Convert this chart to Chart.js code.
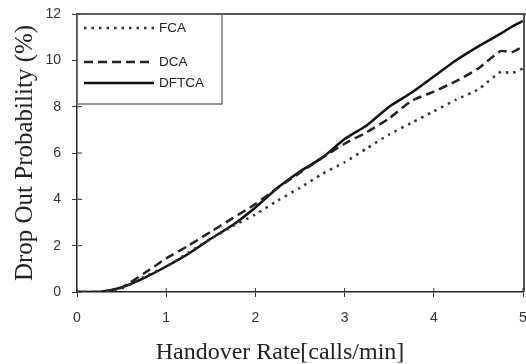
<!DOCTYPE html>
<html>
<head>
<meta charset="utf-8">
<script src="https://cdn.jsdelivr.net/npm/chart.js@4.4.0/dist/chart.umd.min.js"></script>
<style>
html,body{margin:0;padding:0;background:#fff;overflow:hidden;width:526px;height:364px;}
#wrap{width:545px;height:364px;}
</style>
</head>
<body>
<div id="wrap"><canvas id="c" width="545" height="364"></canvas></div>
<script>
const xValues = [0,0.25,0.5,0.75,1,1.25,1.5,1.75,2,2.25,2.5,2.75,3,3.25,3.5,3.75,4,4.25,4.5,4.75,4.875,5];
const fca   = [0,0,0.15,0.65,1.1,1.7,2.3,2.85,3.35,3.95,4.5,5.1,5.6,6.2,6.8,7.3,7.8,8.3,8.75,9.5,9.45,9.65];
const dca   = [0,0,0.2,0.8,1.45,2.0,2.6,3.2,3.8,4.5,5.15,5.8,6.4,6.9,7.5,8.25,8.65,9.1,9.65,10.4,10.35,10.6];
const dftca = [0,0,0.2,0.6,1.1,1.65,2.3,2.9,3.65,4.5,5.2,5.8,6.6,7.2,8.0,8.6,9.3,10.0,10.6,11.15,11.45,11.7];
const seriesNames = ['FCA','DCA','DFTCA'];
const xTitle = 'Handover Rate[calls/min]';
const yTitle = 'Drop Out Probability (%)';

function pts(arr){ return arr.map((v,i)=>({x:xValues[i], y:v})); }

const styles = [
  {borderDash:[2.5,5], borderWidth:2.5, color:'#333'},
  {borderDash:[9,5], borderWidth:2.5, color:'#222'},
  {borderDash:[], borderWidth:2.5, color:'#111'}
];
const data = [fca, dca, dftca];

const framePlugin = {
  id:'frame',
  afterDraw(chart){
    const ctx = chart.ctx, a = chart.chartArea;
    const xs = chart.scales.x, ys = chart.scales.y;
    ctx.save();
    ctx.strokeStyle = '#555'; ctx.lineWidth = 2;
    ctx.beginPath(); ctx.moveTo(a.left, a.top); ctx.lineTo(a.right+30, a.top); ctx.stroke();
    ctx.beginPath(); ctx.moveTo(a.right+1, a.top); ctx.lineTo(a.right+1, a.bottom); ctx.stroke();
    ctx.strokeStyle = '#333'; ctx.lineWidth = 1;
    xs.ticks.forEach(t=>{ const px = xs.getPixelForValue(t.value);
      ctx.beginPath(); ctx.moveTo(px, a.bottom); ctx.lineTo(px, a.bottom-4); ctx.stroke(); });
    ys.ticks.forEach(t=>{ const py = ys.getPixelForValue(t.value);
      ctx.beginPath(); ctx.moveTo(a.left, py); ctx.lineTo(a.left+5, py); ctx.stroke(); });
    ctx.fillStyle = '#fff';
    const lx = a.left, ly = a.top, lw = 145, lh = 90;
    ctx.fillRect(lx+1, ly+1, lw-1, lh-1);
    ctx.strokeStyle = '#666'; ctx.lineWidth = 1.3;
    ctx.strokeRect(lx, ly, lw, lh);
    const rows = [14, 48, 69];
    ctx.font = '13.5px "Liberation Sans Narrow", "Liberation Sans", sans-serif';
    ctx.textBaseline = 'middle';
    chart.data.datasets.forEach((ds,i)=>{
      const y = ly + rows[i];
      ctx.strokeStyle = ds.borderColor; ctx.lineWidth = ds.borderWidth;
      ctx.setLineDash(ds.borderDash);
      ctx.beginPath(); ctx.moveTo(lx+7, y); ctx.lineTo(lx+77, y); ctx.stroke();
      ctx.setLineDash([]);
      ctx.fillStyle = '#222';
      ctx.fillText(ds.label, lx+82, y);
    });
    ctx.font = '24px "Liberation Serif", serif';
    ctx.fillStyle = '#222';
    ctx.textAlign = 'center';
    ctx.fillText(xTitle, a.left + 203, a.bottom + 61);
    ctx.restore();
  }
};

new Chart(document.getElementById('c'), {
  type:'line',
  data:{
    datasets: data.map((d,i)=>({
      label: seriesNames[i],
      data: pts(d),
      borderColor: styles[i].color,
      borderWidth: styles[i].borderWidth,
      borderDash: styles[i].borderDash,
      pointRadius:0, fill:false, tension:0.2
    }))
  },
  options:{
    responsive:false, animation:false,
    layout:{padding:{top:14, right:22, left:0, bottom:0}},
    plugins:{legend:{display:false}, tooltip:{enabled:false}},
    scales:{
      x:{type:'linear', min:0, max:5,
        ticks:{stepSize:1, padding:13, color:'#333', font:{family:'"Liberation Sans", sans-serif', size:14}},
        grid:{drawOnChartArea:false, drawTicks:true, tickLength:5, color:'#333'},
        border:{display:true, color:'#222', width:1.5},
        afterFit(s){ s.height = 72; s.paddingLeft = 0; s.paddingRight = 0; }
      },
      y:{type:'linear', min:0, max:12,
        ticks:{stepSize:2, padding:11, color:'#333', font:{family:'"Liberation Sans", sans-serif', size:14}},
        grid:{drawOnChartArea:false, drawTicks:true, tickLength:5, color:'#333'},
        border:{display:true, color:'#222', width:1.5},
        title:{display:true, text:yTitle, color:'#222', padding:{top:10, bottom:0},
          font:{family:'"Liberation Serif", serif', size:25}},
        afterFit(s){ s.width = 77; s.paddingTop = 0; s.paddingBottom = 0; }
      }
    }
  },
  plugins:[framePlugin]
});
</script>
</body>
</html>
